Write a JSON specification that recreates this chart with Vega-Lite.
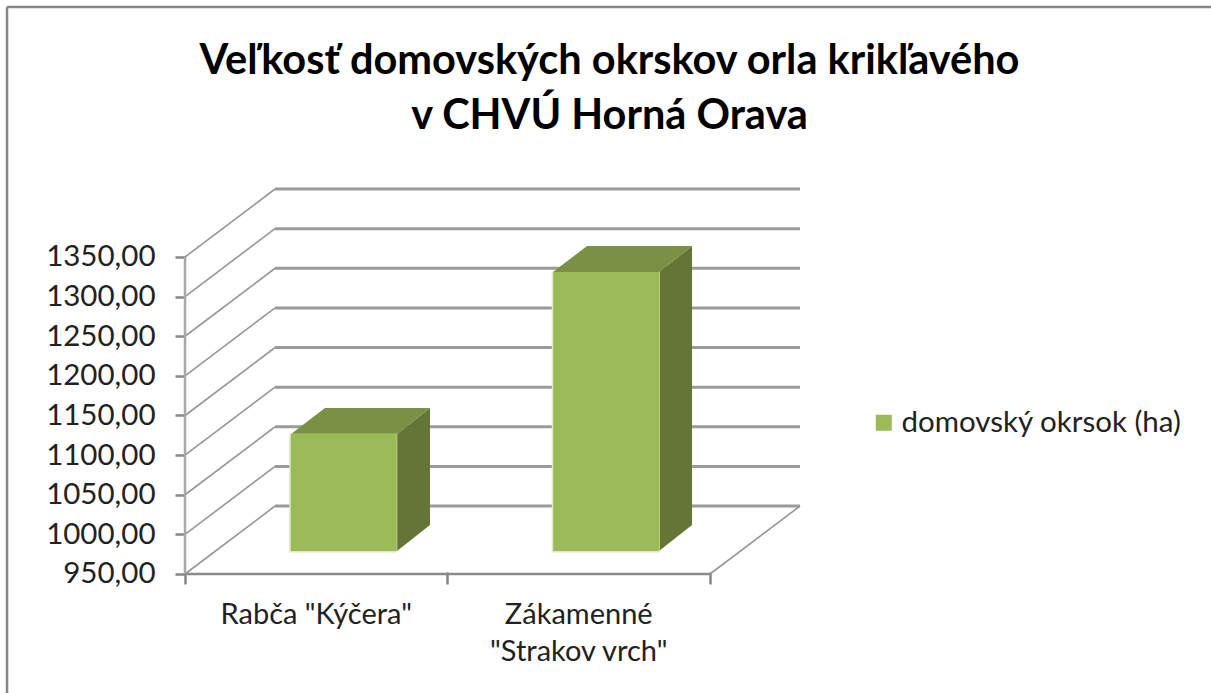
{
"$schema":"https://vega.github.io/schema/vega-lite/v6.json",
"width":1211,"height":693,"padding":0,"autosize":{"type":"none"},
"background":"#ffffff",
"config":{"view":{"stroke":null},"font":"Lato"},
"title":{"text":["Veľkosť domovských okrskov orla krikľavého","v CHVÚ Horná Orava"],"font":"Lato","fontSize":41.5,"fontWeight":"bold","color":"#000000","anchor":"middle","frame":"group","dx":4,"offset":-137,"lineHeight":55},
"datasets":{
"bars":[{"category":"Rabča \"Kýčera\"","pos":0.5,"value":1098},{"category":"Zákamenné\n\"Strakov vrch\"","pos":1.5,"value":1302}],
"grid":[{"level":950,"back":1035.8},{"level":1000,"back":1085.8},{"level":1050,"back":1135.8},{"level":1100,"back":1185.8},{"level":1150,"back":1235.8},{"level":1200,"back":1285.8},{"level":1250,"back":1335.8},{"level":1300,"back":1385.8},{"level":1350,"back":1435.8}],
"sideFaces":[
{"bar":"a","pos":0.8076,"low":979,"high":1126.6},{"bar":"a","pos":0.9333,"low":1011.8,"high":1159.4},
{"bar":"b","pos":1.8057,"low":979,"high":1331},{"bar":"b","pos":1.9314,"low":1011.8,"high":1363.9}],
"topFaces":[
{"bar":"a","pos":0.4038,"low":1126.6,"high":1126.6},{"bar":"a","pos":0.5333,"low":1126.6,"high":1159.4},{"bar":"a","pos":0.8076,"low":1126.6,"high":1159.4},{"bar":"a","pos":0.9333,"low":1159.4,"high":1159.4},
{"bar":"b","pos":1.4019,"low":1331,"high":1331},{"bar":"b","pos":1.5314,"low":1331,"high":1363.9},{"bar":"b","pos":1.8057,"low":1331,"high":1363.9},{"bar":"b","pos":1.9314,"low":1363.9,"high":1363.9}]
},
"data":{"name":"grid"},
"encoding":{
"x":{"type":"quantitative","scale":{"domain":[-0.70476,3.90857],"nice":false,"zero":false,"padding":0},
"axis":{"values":[0,1,2],"title":null,"labels":false,"domain":false,"grid":false,"ticks":true,"tickSize":12,"tickWidth":2.5,"tickColor":"#868686","offset":-121}},
"y":{"type":"quantitative","scale":{"domain":[799.84,1674.29],"nice":false,"zero":false,"padding":0},
"axis":{"values":[950,1000,1050,1100,1150,1200,1250,1300,1350],"title":null,"domain":false,"grid":false,"tickSize":10,"tickWidth":2.5,"tickColor":"#868686","offset":-185,"labelFont":"Lato","labelFontSize":29.5,"labelColor":"#222222","labelPadding":20,"labelExpr":"replace(format(datum.value,'.2f'),'.',',')"}}
},
"layer":[
{"data":{"values":[{"a":1}]},"mark":{"type":"rule","color":"#868686","strokeWidth":2.5},"encoding":{"x":{"datum":-0.678},"x2":{"datum":3.90857},"y":{"datum":1665.5}}},
{"data":{"values":[{"a":1}]},"mark":{"type":"rule","color":"#868686","strokeWidth":2.5},"encoding":{"x":{"datum":-0.678},"y":{"datum":1665.5},"y2":{"datum":799.84}}},
{"mark":{"type":"rule","color":"#9a9a9a","strokeWidth":3},"encoding":{"x":{"datum":0.343},"x2":{"datum":2.343},"y":{"field":"back","type":"quantitative"}}},
{"mark":{"type":"rule","color":"#969696","strokeWidth":1.6},"encoding":{"x":{"datum":0},"x2":{"datum":0.343},"y":{"field":"level","type":"quantitative"},"y2":{"field":"back"}}},
{"data":{"values":[{"level":950,"back":1035.8}]},"mark":{"type":"rule","color":"#969696","strokeWidth":1.6},"encoding":{"x":{"datum":2},"x2":{"datum":2.343},"y":{"field":"level","type":"quantitative"},"y2":{"field":"back"}}},
{"data":{"values":[{"a":1}]},"mark":{"type":"rule","color":"#8a8a8a","strokeWidth":2.5},"encoding":{"x":{"datum":0},"x2":{"datum":2},"y":{"datum":950}}},
{"data":{"values":[{"a":1}]},"mark":{"type":"rule","color":"#a8a8a8","strokeWidth":2.5},"encoding":{"x":{"datum":0},"y":{"datum":950},"y2":{"datum":1350}}},
{"data":{"name":"sideFaces"},"mark":{"type":"area","orient":"vertical","color":"#647536"},"encoding":{"x":{"field":"pos","type":"quantitative"},"y":{"field":"low","type":"quantitative"},"y2":{"field":"high"},"detail":{"field":"bar"}}},
{"data":{"name":"topFaces"},"mark":{"type":"area","orient":"vertical","color":"#7a9145"},"encoding":{"x":{"field":"pos","type":"quantitative"},"y":{"field":"low","type":"quantitative"},"y2":{"field":"high"},"detail":{"field":"bar"}}},
{"data":{"name":"bars"},"mark":{"type":"bar","orient":"vertical","size":108,"xOffset":27,"yOffset":-23,"y2Offset":-21.5,"color":"#dde8c6"},
"encoding":{"x":{"field":"pos","type":"quantitative"},"y":{"field":"value","type":"quantitative"},"y2":{"datum":950}}},
{"data":{"name":"bars"},"mark":{"type":"bar","orient":"vertical","size":106,"xOffset":27.5,"yOffset":-23,"y2Offset":-23},
"encoding":{"x":{"field":"pos","type":"quantitative"},"y":{"field":"value","type":"quantitative"},"y2":{"datum":950},
"color":{"datum":"domovský okrsok (ha)","type":"nominal","scale":{"range":["#9bbb59"]},"legend":{"title":null,"orient":"none","legendX":869,"legendY":408,"symbolType":"square","symbolSize":256,"symbolStrokeWidth":0,"labelFont":"Lato","labelFontSize":29.5,"labelColor":"#222222","labelOffset":3,"labelLimit":340}}}},
{"data":{"name":"bars"},"mark":{"type":"text","font":"Lato","fontSize":29,"color":"#222222","lineBreak":"\n","lineHeight":37,"baseline":"top","align":"center"},
"encoding":{"x":{"field":"pos","type":"quantitative"},"y":{"datum":915.3},"text":{"field":"category","type":"nominal"}}}
]
}
